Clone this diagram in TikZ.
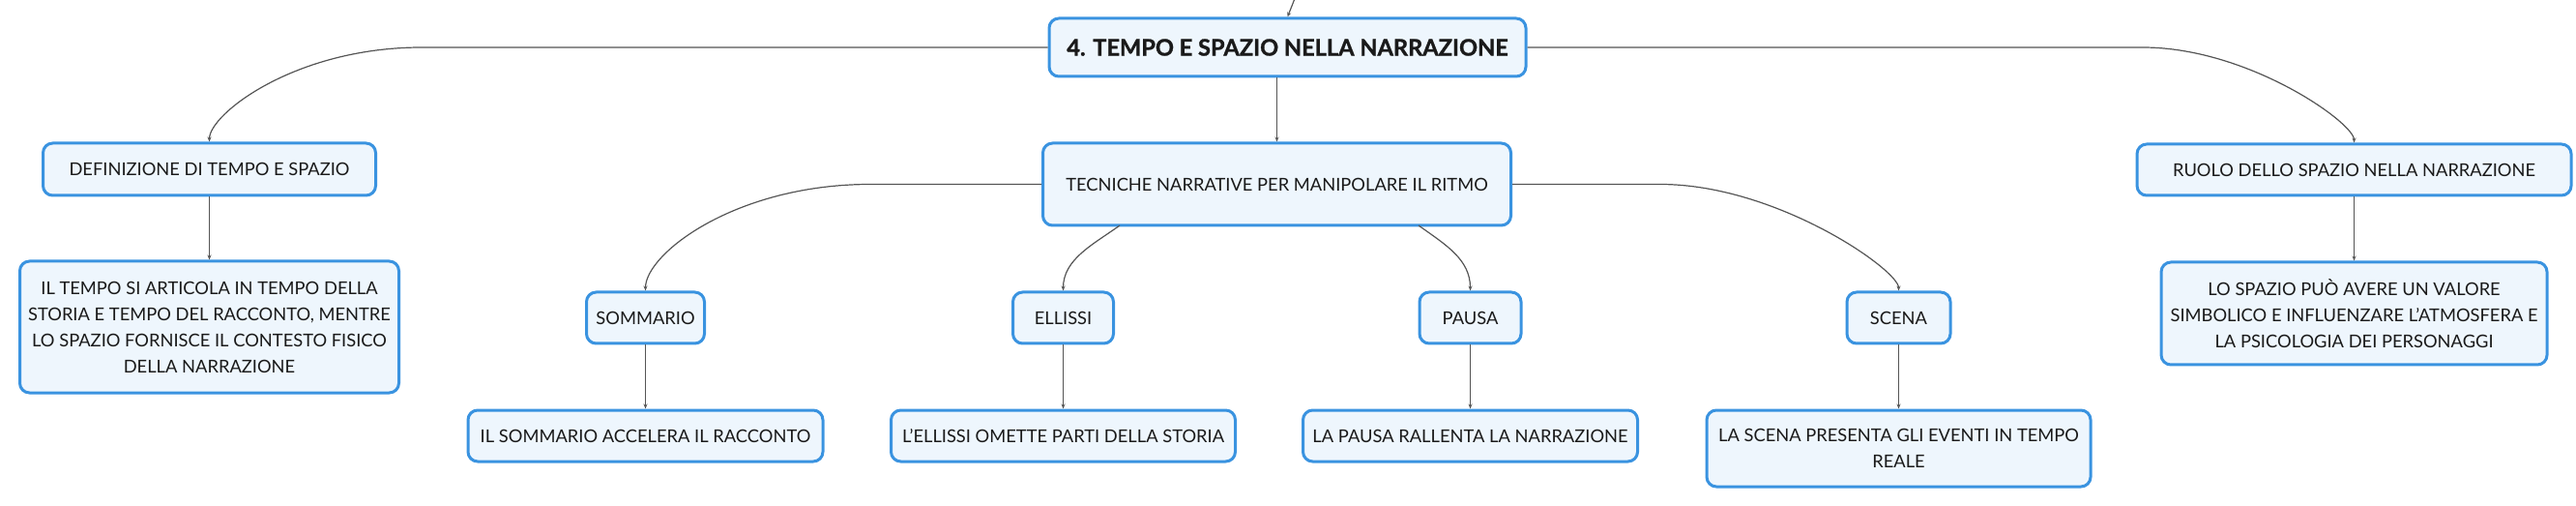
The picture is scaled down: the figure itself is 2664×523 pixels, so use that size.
\documentclass[tikz,border=0pt]{standalone}
\usepackage{fontspec}
\setmainfont{Lato}
\newfontfamily\rootfont[BoldFeatures={FakeBold=1.2}]{Lato}
\usetikzlibrary{arrows.meta}
\definecolor{bord}{HTML}{3A93E0}
\definecolor{boxfill}{HTML}{EEF6FD}
\definecolor{conn}{HTML}{555555}
\definecolor{txt}{HTML}{1A1A1A}
\tikzset{
  mbox/.style={draw=bord, line width=1.5pt, fill=boxfill, rounded corners=5pt,
    inner sep=0pt, align=center, text=txt, font=\fontsize{9.15}{13.5}\selectfont},
  link/.style={draw=conn, line width=0.6pt, -{Stealth[length=2.5pt,width=2pt]}},
}
\begin{document}
\begin{tikzpicture}[x=0.5pt,y=-0.5pt]
\useasboundingbox (0,0) rectangle (2664,523);
% main nodes
\node[mbox, minimum width=246.5pt, minimum height=30pt, font=\fontsize{11.8}{13}\rootfont\bfseries] (root) at (1331.5,49) {4. TEMPO E SPAZIO NELLA NARRAZIONE};
\node[mbox, minimum width=172pt, minimum height=27pt] (def) at (216.5,175) {DEFINIZIONE DI TEMPO E SPAZIO};
\node[mbox, minimum width=196pt, minimum height=68pt] (defc) at (216.5,338) {IL TEMPO SI ARTICOLA IN TEMPO DELLA\\STORIA E TEMPO DEL RACCONTO, MENTRE\\LO SPAZIO FORNISCE IL CONTESTO FISICO\\DELLA NARRAZIONE};
\node[mbox, minimum width=242pt, minimum height=42.5pt] (tec) at (1320.5,190.5) {TECNICHE NARRATIVE PER MANIPOLARE IL RITMO};
\node[mbox, minimum width=224.5pt, minimum height=26.5pt] (ruolo) at (2434.5,175.5) {RUOLO DELLO SPAZIO NELLA NARRAZIONE};
\node[mbox, minimum width=199.5pt, minimum height=53pt] (ruoloc) at (2434.5,324) {LO SPAZIO PUÒ AVERE UN VALORE\\SIMBOLICO E INFLUENZARE L’ATMOSFERA E\\LA PSICOLOGIA DEI PERSONAGGI};
% techniques
\node[mbox, minimum width=61pt, minimum height=26.5pt] (som) at (667.5,328.5) {SOMMARIO};
\node[mbox, minimum width=52pt, minimum height=26.5pt] (ell) at (1099.5,328.5) {ELLISSI};
\node[mbox, minimum width=52.5pt, minimum height=26.5pt] (pau) at (1520.5,328.5) {PAUSA};
\node[mbox, minimum width=53.5pt, minimum height=26.5pt] (sce) at (1963.5,328.5) {SCENA};
\node[mbox, minimum width=183.5pt, minimum height=26.5pt] (somc) at (667.5,450.5) {IL SOMMARIO ACCELERA IL RACCONTO};
\node[mbox, minimum width=178pt, minimum height=26.5pt] (ellc) at (1099.5,450.5) {L’ELLISSI OMETTE PARTI DELLA STORIA};
\node[mbox, minimum width=173pt, minimum height=26.5pt] (pauc) at (1520.5,450.5) {LA PAUSA RALLENTA LA NARRAZIONE};
\node[mbox, minimum width=198.5pt, minimum height=39.5pt] (scec) at (1963.5,463.5) {LA SCENA PRESENTA GLI EVENTI IN TEMPO\\REALE};
% helper coordinates
\coordinate (up) at (1340,-4);
\coordinate (h1) at (436,49);
\coordinate (h2) at (2216,49);
\coordinate (h3) at (900,190.5);
\coordinate (h4) at (1717,190.5);
\coordinate (t1) at (1158,233);
\coordinate (t2) at (1467,233);
% connectors
\draw[link] (up) .. controls (1336,6) .. (root.north);
\draw[link] (root.west) -- (h1) .. controls (305,49) and (216.5,118) .. (def.north);
\draw[link] (root.east) -- (h2) .. controls (2325,49) and (2434.5,127) .. (ruolo.north);
\draw[link] (root.south -| tec.north) -- (tec.north);
\draw[link] (def.south) -- (defc.north);
\draw[link] (ruolo.south) -- (ruoloc.north);
\draw[link] (tec.west) -- (h3) .. controls (761,190.5) and (667.5,262) .. (som.north);
\draw[link] (t1) .. controls (1130,253) and (1099.5,268) .. (ell.north);
\draw[link] (t2) .. controls (1495,253) and (1520.5,268) .. (pau.north);
\draw[link] (tec.east) -- (h4) .. controls (1837,190.5) and (1963.5,279) .. (sce.north);
\draw[link] (som.south) -- (somc.north);
\draw[link] (ell.south) -- (ellc.north);
\draw[link] (pau.south) -- (pauc.north);
\draw[link] (sce.south) -- (scec.north);
\end{tikzpicture}
\end{document}
